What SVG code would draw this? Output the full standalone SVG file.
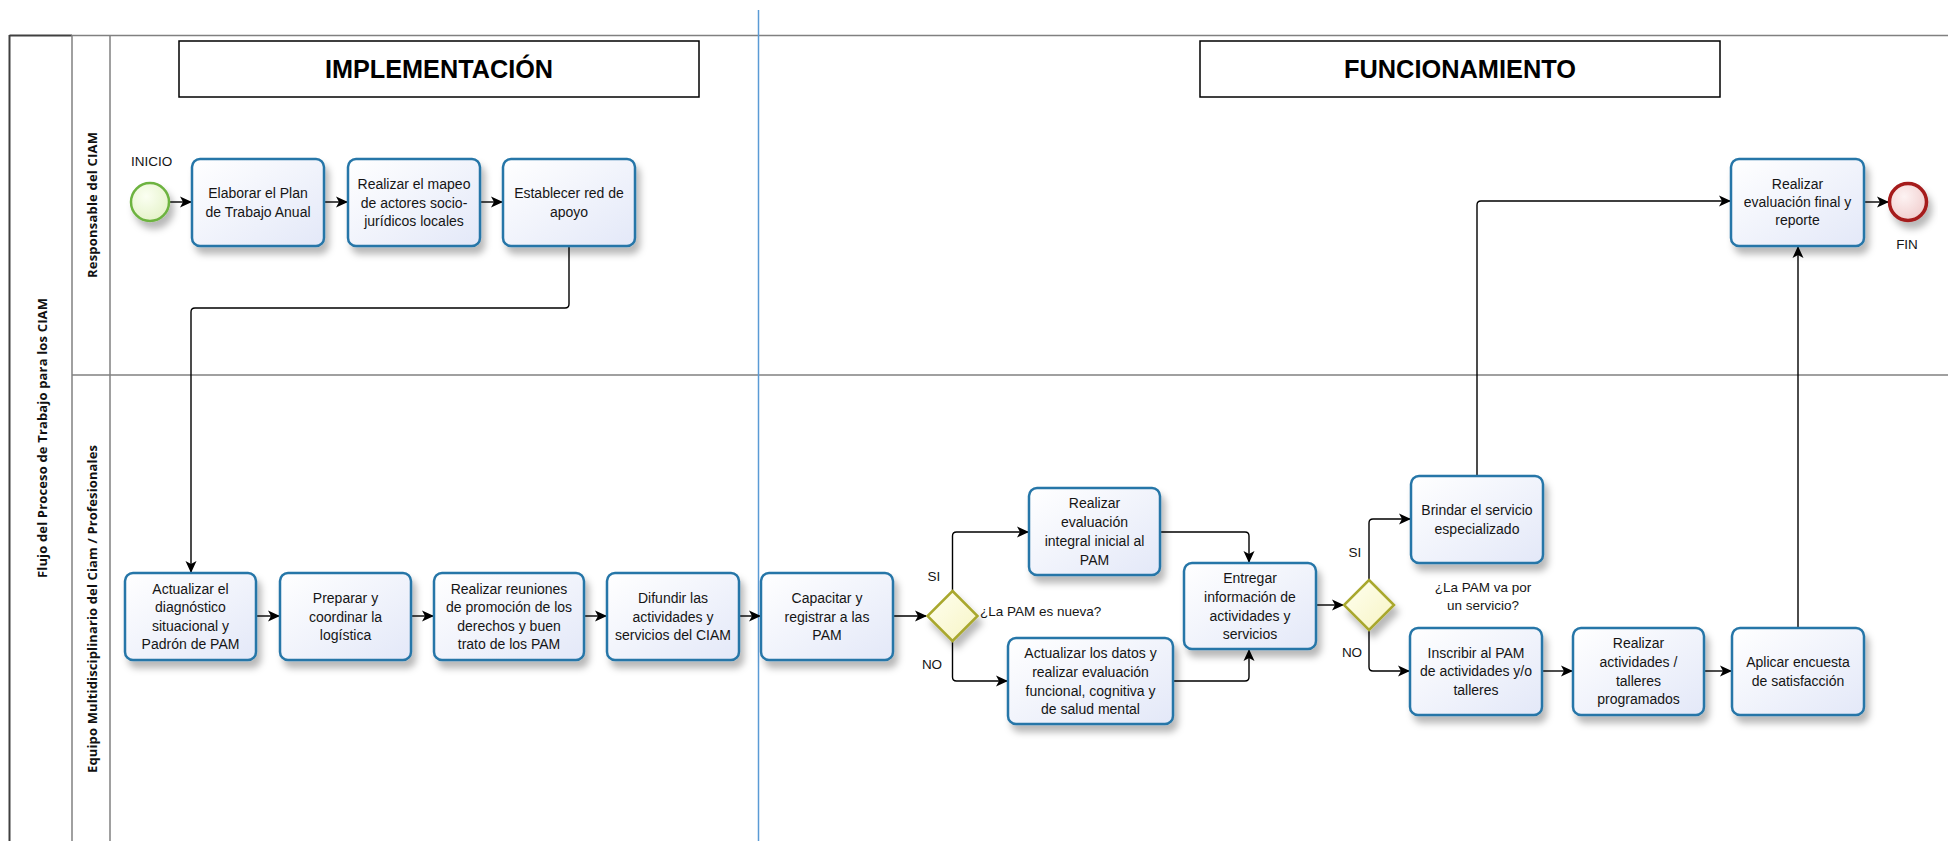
<svg xmlns="http://www.w3.org/2000/svg" width="1948" height="841" viewBox="0 0 1948 841">
<defs>
<linearGradient id="gTask" x1="0" y1="0" x2="1" y2="1"><stop offset="0" stop-color="#ffffff"/><stop offset="1" stop-color="#e3e8f8"/></linearGradient>
<linearGradient id="gGate" x1="0" y1="0" x2="1" y2="1"><stop offset="0" stop-color="#fffff0"/><stop offset="1" stop-color="#f7f4c4"/></linearGradient>
<radialGradient id="gStart" cx="0.4" cy="0.35" r="0.7"><stop offset="0" stop-color="#fbfff2"/><stop offset="1" stop-color="#e4f2c8"/></radialGradient>
<radialGradient id="gEnd" cx="0.4" cy="0.35" r="0.7"><stop offset="0" stop-color="#fdf3f3"/><stop offset="1" stop-color="#f0cccc"/></radialGradient>
<filter id="sh" x="-20%" y="-20%" width="150%" height="160%"><feDropShadow dx="4" dy="7" stdDeviation="3.5" flood-color="#000" flood-opacity="0.28"/></filter>
<marker id="arr" viewBox="0 0 12 12" refX="11" refY="6" markerWidth="12" markerHeight="12" markerUnits="userSpaceOnUse" orient="auto"><path d="M0,0.5 L12,6 L0,11.5 L3,6 z" fill="#000"/></marker>
</defs>
<style>
.task{fill:url(#gTask);stroke:#2676a8;stroke-width:2.5;filter:url(#sh)}
.gate{fill:url(#gGate);stroke:#a9a82e;stroke-width:2.5;filter:url(#sh)}
.t{font-family:"Liberation Sans",Arial,sans-serif;font-size:14px;fill:#151515;text-anchor:middle}
.lbl{font-family:"Liberation Sans",Arial,sans-serif;font-size:13.5px;fill:#151515}
.lane{font-family:"Open Sans","Liberation Sans",sans-serif;font-size:13px;font-weight:bold;fill:#111;text-anchor:middle}
.hdr{font-family:"Liberation Sans",Arial,sans-serif;font-size:26px;font-weight:bold;fill:#000;text-anchor:middle}
.c{fill:none;stroke:#000;stroke-width:1.4;marker-end:url(#arr)}
.grid{stroke:#808080;stroke-width:1.5;fill:none}
</style>
<rect width="1948" height="841" fill="#fff"/>
<g id="pool">
<line class="grid" x1="72" y1="35.5" x2="1948" y2="35.5"/>
<line x1="9.5" y1="35.5" x2="72" y2="35.5" stroke="#404040" stroke-width="2"/>
<line x1="9.5" y1="35" x2="9.5" y2="841" stroke="#404040" stroke-width="2"/>
<line class="grid" x1="72" y1="35" x2="72" y2="841"/>
<line class="grid" x1="110" y1="35" x2="110" y2="841"/>
<line class="grid" x1="72" y1="375" x2="1948" y2="375"/>
<text class="lane" transform="translate(47,438) rotate(-90)" textLength="280">Flujo del Proceso de Trabajo para los CIAM</text>
<text class="lane" transform="translate(97,205) rotate(-90)" textLength="146">Responsable del CIAM</text>
<text class="lane" transform="translate(97,609) rotate(-90)" textLength="328">Equipo Multidisciplinario del Ciam / Profesionales</text>
</g>
<line x1="758.5" y1="10" x2="758.5" y2="841" stroke="#5b9bd5" stroke-width="1.5"/>
<g id="hdr-impl">
<rect x="179" y="41" width="520" height="56" fill="#fff" stroke="#000" stroke-width="1.5"/>
<text class="hdr" x="439" y="78" textLength="228" lengthAdjust="spacingAndGlyphs">IMPLEMENTACIÓN</text>
</g>
<g id="hdr-func">
<rect x="1200" y="41" width="520" height="56" fill="#fff" stroke="#000" stroke-width="1.5"/>
<text class="hdr" x="1460" y="78" textLength="232" lengthAdjust="spacingAndGlyphs">FUNCIONAMIENTO</text>
</g>
<g id="connectors">
<path class="c" d="M169,202 H191"/>
<path class="c" d="M324,202 H347"/>
<path class="c" d="M480,202 H502"/>
<path class="c" d="M569,246 V304 Q569,308 565,308 H195 Q191,308 191,312 V572"/>
<path class="c" d="M256,616 H279"/>
<path class="c" d="M411,616 H433"/>
<path class="c" d="M584,616 H606"/>
<path class="c" d="M739,616 H760"/>
<path class="c" d="M893,616 H926"/>
<path class="c" d="M952.5,591 V536 Q952.5,532 956.5,532 H1028"/>
<path class="c" d="M952.5,641 V677 Q952.5,681 956.5,681 H1007"/>
<path class="c" d="M1160,532 H1245 Q1249,532 1249,536 V562"/>
<path class="c" d="M1173,681 H1245 Q1249,681 1249,677 V650"/>
<path class="c" d="M1316,605 H1343"/>
<path class="c" d="M1369,580 V523 Q1369,519 1373,519 H1410"/>
<path class="c" d="M1369,630 V667 Q1369,671 1373,671 H1409"/>
<path class="c" d="M1542,671 H1572"/>
<path class="c" d="M1704,671 H1731"/>
<path class="c" d="M1477,476 V205 Q1477,201 1481,201 H1730"/>
<path class="c" d="M1798,628 V247"/>
<path class="c" d="M1864,202 H1888"/>
</g>
<g id="start">
<circle cx="150" cy="202" r="19" fill="url(#gStart)" stroke="#6db33f" stroke-width="2.5" filter="url(#sh)"/>
<text class="lbl" x="131" y="166">INICIO</text>
</g>
<g id="end">
<circle cx="1908" cy="202" r="18.5" fill="url(#gEnd)" stroke="#a51c1c" stroke-width="3.5" filter="url(#sh)"/>
<text class="lbl" x="1907" y="249" text-anchor="middle">FIN</text>
</g>
<g id="t-plan"><rect class="task" x="192" y="159" width="132" height="87" rx="8"/>
<text class="t" x="258" y="198">Elaborar el Plan</text><text class="t" x="258" y="216.5">de Trabajo Anual</text></g>
<g id="t-mapeo"><rect class="task" x="348" y="159" width="132" height="87" rx="8"/>
<text class="t" x="414" y="189">Realizar el mapeo</text><text class="t" x="414" y="207.5">de actores socio-</text><text class="t" x="414" y="226">jurídicos locales</text></g>
<g id="t-red"><rect class="task" x="503" y="159" width="132" height="87" rx="8"/>
<text class="t" x="569" y="198">Establecer red de</text><text class="t" x="569" y="216.5">apoyo</text></g>
<g id="t-evalfinal"><rect class="task" x="1731" y="159" width="133" height="87" rx="8"/>
<text class="t" x="1797.5" y="189">Realizar</text><text class="t" x="1797.5" y="207">evaluación final y</text><text class="t" x="1797.5" y="225">reporte</text></g>
<g id="t-diag"><rect class="task" x="125" y="573" width="131" height="87" rx="8"/>
<text class="t" x="190.5" y="593.5">Actualizar el</text><text class="t" x="190.5" y="612">diagnóstico</text><text class="t" x="190.5" y="630.5">situacional y</text><text class="t" x="190.5" y="649">Padrón de PAM</text></g>
<g id="t-logistica"><rect class="task" x="280" y="573" width="131" height="87" rx="8"/>
<text class="t" x="345.5" y="603">Preparar y</text><text class="t" x="345.5" y="621.5">coordinar la</text><text class="t" x="345.5" y="640">logística</text></g>
<g id="t-reuniones"><rect class="task" x="434" y="573" width="150" height="87" rx="8"/>
<text class="t" x="509" y="593.5">Realizar reuniones</text><text class="t" x="509" y="612">de promoción de los</text><text class="t" x="509" y="630.5">derechos y buen</text><text class="t" x="509" y="649">trato de los PAM</text></g>
<g id="t-difundir"><rect class="task" x="607" y="573" width="132" height="87" rx="8"/>
<text class="t" x="673" y="603">Difundir las</text><text class="t" x="673" y="621.5">actividades y</text><text class="t" x="673" y="640">servicios del CIAM</text></g>
<g id="t-capacitar"><rect class="task" x="761" y="573" width="132" height="87" rx="8"/>
<text class="t" x="827" y="603">Capacitar y</text><text class="t" x="827" y="621.5">registrar a las</text><text class="t" x="827" y="640">PAM</text></g>
<g id="g-nueva"><polygon class="gate" points="952.5,591 977.5,616 952.5,641 927.5,616"/>
<text class="lbl" x="934" y="581" text-anchor="middle">SI</text><text class="lbl" x="932" y="669" text-anchor="middle">NO</text>
<text class="lbl" x="980" y="616">¿La PAM es nueva?</text></g>
<g id="t-evalintegral"><rect class="task" x="1029" y="488" width="131" height="87" rx="8"/>
<text class="t" x="1094.5" y="508">Realizar</text><text class="t" x="1094.5" y="527">evaluación</text><text class="t" x="1094.5" y="546">integral inicial al</text><text class="t" x="1094.5" y="564.5">PAM</text></g>
<g id="t-datos"><rect class="task" x="1008" y="638" width="165" height="86" rx="8"/>
<text class="t" x="1090.5" y="658">Actualizar los datos y</text><text class="t" x="1090.5" y="677">realizar evaluación</text><text class="t" x="1090.5" y="696">funcional, cognitiva y</text><text class="t" x="1090.5" y="714">de salud mental</text></g>
<g id="t-entregar"><rect class="task" x="1184" y="563" width="132" height="86" rx="8"/>
<text class="t" x="1250" y="583">Entregar</text><text class="t" x="1250" y="602">información de</text><text class="t" x="1250" y="620.5">actividades y</text><text class="t" x="1250" y="638.5">servicios</text></g>
<g id="g-servicio"><polygon class="gate" points="1369,580 1394,605 1369,630 1344,605"/>
<text class="lbl" x="1355" y="557" text-anchor="middle">SI</text><text class="lbl" x="1352" y="657" text-anchor="middle">NO</text>
<text class="lbl" x="1483" y="592" text-anchor="middle">¿La PAM va por</text><text class="lbl" x="1483" y="610" text-anchor="middle">un servicio?</text></g>
<g id="t-brindar"><rect class="task" x="1411" y="476" width="132" height="87" rx="8"/>
<text class="t" x="1477" y="515">Brindar el servicio</text><text class="t" x="1477" y="533.5">especializado</text></g>
<g id="t-inscribir"><rect class="task" x="1410" y="628" width="132" height="87" rx="8"/>
<text class="t" x="1476" y="658">Inscribir al PAM</text><text class="t" x="1476" y="676">de actividades y/o</text><text class="t" x="1476" y="694.5">talleres</text></g>
<g id="t-talleres"><rect class="task" x="1573" y="628" width="131" height="87" rx="8"/>
<text class="t" x="1638.5" y="648">Realizar</text><text class="t" x="1638.5" y="667">actividades /</text><text class="t" x="1638.5" y="686">talleres</text><text class="t" x="1638.5" y="704">programados</text></g>
<g id="t-encuesta"><rect class="task" x="1732" y="628" width="132" height="87" rx="8"/>
<text class="t" x="1798" y="667">Aplicar encuesta</text><text class="t" x="1798" y="686">de satisfacción</text></g>
</svg>
